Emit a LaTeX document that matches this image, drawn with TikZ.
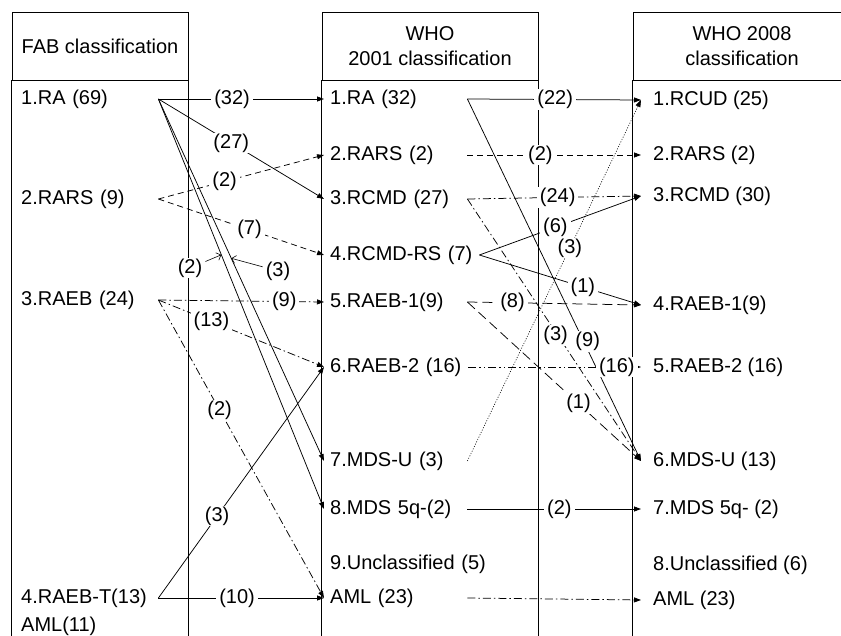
\documentclass[tikz,border=0pt]{standalone}
\usepackage{fontspec}
\setmainfont{Liberation Sans}
\usetikzlibrary{arrows.meta}
\begin{document}
\begin{tikzpicture}[x=1pt,y=-1pt,
    every node/.style={font=\fontsize{20}{25}\selectfont, inner ysep=2pt},
    head/.style={draw, line width=0.8pt, minimum height=68pt, align=center, inner sep=0pt},
    fab/.style={anchor=west, inner xsep=9pt, text width=128pt, align=left},
    who/.style={anchor=west, inner xsep=6pt, text width=131pt, align=left},
    new/.style={anchor=west, inner xsep=12pt},
    num/.style={fill=white, inner xsep=3pt, inner ysep=1pt},
    conn/.style={line width=0.75pt, -{Triangle[length=7pt,width=5pt]}},
    dashline/.style={dash pattern=on 6pt off 4pt},
    longdash/.style={dash pattern=on 10pt off 5pt},
    dashdotline/.style={dash pattern=on 8pt off 3pt on 1.5pt off 3pt},
    dashdotdotline/.style={dash pattern=on 8pt off 3pt on 1.5pt off 3pt on 1.5pt off 3pt},
    dotline/.style={line width=0.6pt, dash pattern=on 1pt off 1.6pt}]
  \useasboundingbox (0,0) rectangle (841,636);
  \node[head, minimum width=176pt] (fabh) at (100,46) {FAB classification};
  \node[head, minimum width=216pt] (whoh) at (430,46) {WHO\\2001 classification};
  \node[head, minimum width=218pt] (newh) at (742,46) {WHO 2008\\classification};
  \draw[line width=0.8pt] (fabh.south west) -- ++(0,570) (fabh.south east) -- ++(0,570);
  \draw[line width=0.8pt] (whoh.south west) -- ++(0,570) (whoh.south east) -- ++(0,570);
  \draw[line width=0.8pt] (newh.south west) -- ++(0,570);

  \node[fab] (f1) at (12,99) {1.RA (69)};
  \node[fab] (f2) at (12,199) {2.RARS (9)};
  \node[fab] (f3) at (12,300) {3.RAEB (24)};
  \node[fab] (f4) at (12,598) {4.RAEB-T(13)};
  \node[fab] (f5) at (12,626) {AML(11)};

  \node[who] (w1) at (324,99) {1.RA (32)};
  \node[who] (w2) at (324,155) {2.RARS (2)};
  \node[who] (w3) at (324,199) {3.RCMD (27)};
  \node[who, text width=143pt] (w4) at (324,255) {4.RCMD-RS (7)};
  \node[who] (w5) at (324,302) {5.RAEB-1(9)};
  \node[who, text width=132pt] (w6) at (324,367) {6.RAEB-2 (16)};
  \node[who] (w7) at (324,461) {7.MDS-U (3)};
  \node[who] (w8) at (324,509) {8.MDS 5q-(2)};
  \node[who, text width=160pt] (w9) at (324,564) {9.Unclassified (5)};
  \node[who] (w10) at (324,598) {AML (23)};

  \node[new] (n1) at (641,100) {1.RCUD (25)};
  \node[new] (n2) at (641,155) {2.RARS (2)};
  \node[new] (n3) at (641,196) {3.RCMD (30)};
  \node[new] (n4) at (641,305) {4.RAEB-1(9)};
  \node[new] (n5) at (641,367) {5.RAEB-2 (16)};
  \node[new] (n6) at (641,461) {6.MDS-U (13)};
  \node[new] (n7) at (641,509) {7.MDS 5q- (2)};
  \node[new] (n8) at (641,565) {8.Unclassified (6)};
  \node[new] (n9) at (641,600) {AML (23)};

  \draw[conn] (f1.east) -- node[num, pos=0.445] {(32)} (w1.west);
  \draw[conn] (f1.east) -- node[num, pos=0.44] {(27)} (w3.west);
  \draw[conn] (f1.east) -- coordinate[pos=0.44] (onA) (w7.west);
  \draw[conn] (f1.east) -- coordinate[pos=0.38] (onB) (w8.west);
  \draw[conn, dashline] (f2.east) -- node[num, pos=0.4] {(2)} (w2.west);
  \draw[conn, dashline] (f2.east) -- node[num, pos=0.55] {(7)} (w4.west);
  \draw[conn, dashdotline] (f3.east) -- node[num, pos=0.76] {(9)} (w5.west);
  \draw[conn, dashdotline] (f3.east) -- node[num, pos=0.32] {(13)} (w6.west);
  \draw[conn, dashdotline] (f3.east) -- node[num, pos=0.37] {(2)} (w10.west);
  \draw[conn] (f4.east) -- node[num, pos=0.355] {(3)} (w6.west);
  \draw[conn] (f4.east) -- node[num, pos=0.475] {(10)} (w10.west);
  \node[num] (p2) at (190,268) {(2)};
  \node[num] (p3) at (278,271) {(3)};
  \draw[line width=0.6pt, -{Straight Barb[length=4pt]}] (p2) -- (onB);
  \draw[line width=0.6pt, -{Straight Barb[length=4pt]}] (p3) -- (onA);

  \draw[conn] (w1.east) -- node[num, pos=0.506] {(22)} (n1.west);
  \draw[conn] (w1.east) -- node[num, pos=0.67, xshift=4pt] {(9)} (n6.west);
  \draw[conn, dashline] (w2.east) -- node[num, pos=0.42] {(2)} (n2.west);
  \draw[conn, dashdotline] (w3.east) -- node[num, pos=0.52] {(24)} (n3.west);
  \draw[conn, dashdotline] (w3.east) -- node[num, pos=0.52, xshift=-2pt] {(3)} (n6.west);
  \draw[conn] (w4.east) -- node[num, pos=0.47] {(6)} (n3.west);
  \draw[conn] (w4.east) -- node[num, pos=0.64] {(1)} (n4.west);
  \draw[conn, longdash] (w5.east) -- node[num, pos=0.26] {(8)} (n4.west);
  \draw[conn, longdash] (w5.east) -- node[num, pos=0.64] {(1)} (n6.west);
  \draw[conn, dashdotdotline] (w6.east) -- node[num, pos=0.86] {(16)} (n5.west);
  \draw[conn, dotline] (w7.east) -- node[num, pos=0.59] {(3)} (n1.west);
  \draw[conn] (w8.east) -- node[num, pos=0.53] {(2)} (n7.west);
  \draw[conn, dashdotline] (w10.east) -- (n9.west);
\end{tikzpicture}
\end{document}
